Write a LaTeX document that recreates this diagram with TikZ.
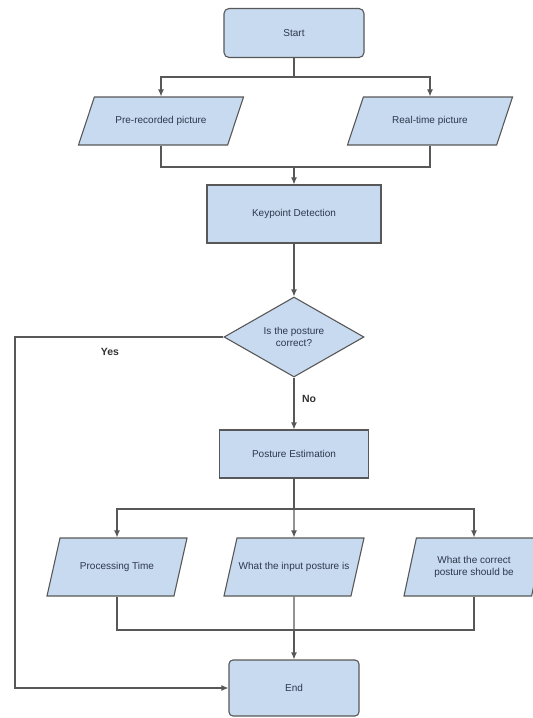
\documentclass[tikz,border=0pt]{standalone}
\usepackage{fontspec}
\setmainfont{Liberation Sans}
\usetikzlibrary{arrows.meta,shapes.geometric,positioning}
\definecolor{flowBlue}{RGB}{200,218,240}
\definecolor{flowGray}{RGB}{88,88,88}
\definecolor{flowText}{RGB}{45,55,75}

\begin{document}
\begin{tikzpicture}[x=1pt,y=-1pt,
  font=\fontsize{10}{12}\selectfont,
  boxbase/.style={draw=flowGray, fill=flowBlue, line width=1.1pt, text=flowText, align=center, inner sep=1pt},
  termbox/.style={boxbase, rectangle, rounded corners=5pt, minimum width=140pt, minimum height=49pt},
  procbox/.style={boxbase, rectangle},
  iobox/.style={boxbase, trapezium, trapezium left angle=#1, trapezium right angle=180-#1,
    trapezium stretches body},
  decbox/.style={boxbase, diamond, aspect=1.75, minimum width=140pt, minimum height=80pt, inner sep=0pt},
  conn/.style={draw=flowGray, line width=1.1pt},
  arr/.style={conn, -{Latex[length=7pt,width=6pt]}},
  tag/.style={font=\fontsize{10.5}{12}\selectfont\bfseries, text=black!80}]
\useasboundingbox (0,0) rectangle (533,718);

% boxes
\node[termbox] (start) at (294,33) {Start};
\node[iobox=35.5, minimum width=165pt, minimum height=48pt] (pre) at (161,121) {Pre-recorded picture};
\node[iobox=35.5, minimum width=165pt, minimum height=48pt] (real) at (430,121) {Real-time picture};
\node[procbox, minimum width=174pt, minimum height=58pt] (key) at (294,214) {Keypoint Detection};
\node[decbox] (dec) at (294,337) {Is the posture\\correct?};
\node[procbox, minimum width=149pt, minimum height=48pt] (post) at (294,454) {Posture Estimation};
\node[iobox=41, minimum width=140pt, minimum height=58pt] (ptime) at (117,567) {Processing Time};
\node[iobox=41, minimum width=140pt, minimum height=58pt] (inpost) at (294,567) {What the input posture is};
\node[iobox=62, minimum width=140pt, minimum height=58pt] (corpost) at (474,567) {What the correct\\posture should be};
\node[termbox, rounded corners=4pt, minimum width=130pt, minimum height=56pt] (endn) at (294,688) {End};

% junctions
\coordinate (split1) at (294,77);
\coordinate (merge1) at (294,167);
\coordinate (split2) at (294,509);
\coordinate (merge2) at (294,630);
\coordinate (yesleft) at (15,337);

% connectors
\draw[conn] (start.south) -- (split1);
\draw[arr] (split1) -| (pre.north);
\draw[arr] (split1) -| (real.north);
\draw[conn] (pre.south) |- (merge1);
\draw[conn] (real.south) |- (merge1);
\draw[arr] (merge1) -- (key.north);
\draw[arr] (key.south) -- (dec.north);
\draw[arr] (dec.west) -- (yesleft) |- (endn.west);
\draw[arr] (dec.south) -- (post.north);
\draw[conn] (post.south) -- (split2);
\draw[arr] (split2) -| (ptime.north);
\draw[arr] (split2) -- (inpost.north);
\draw[arr] (split2) -| (corpost.north);
\draw[conn] (ptime.south) |- (merge2);
\draw[conn] (corpost.south) |- (merge2);
\draw[conn] (inpost.south) -- (merge2);
\draw[arr] (merge2) -- (endn.north);

% labels
\node[tag] (yes) at (110,352) {Yes};
\node[tag] (no) at (309,399) {No};
\end{tikzpicture}
\end{document}
